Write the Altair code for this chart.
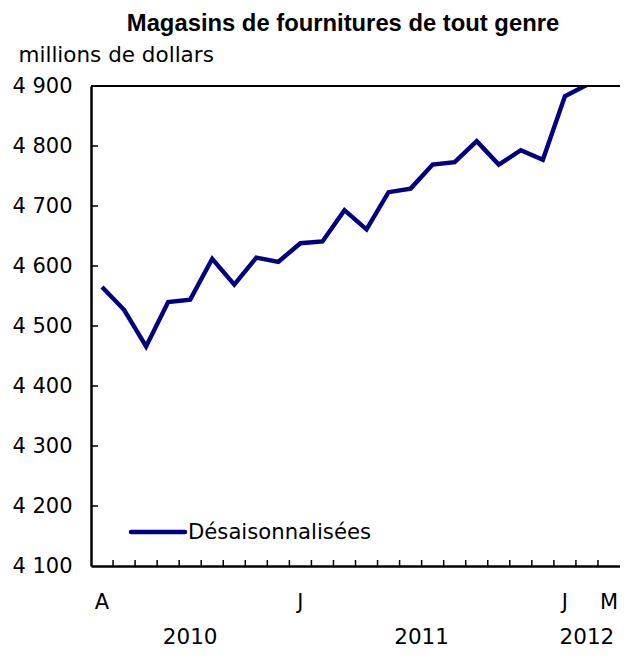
import altair as alt
import pandas as pd

# ---- data ----
title_text = "Magasins de fournitures de tout genre"
y_title = "millions de dollars"
series_name = "Désaisonnalisées"

months = ["2010-04", "2010-05", "2010-06", "2010-07", "2010-08", "2010-09",
          "2010-10", "2010-11", "2010-12", "2011-01", "2011-02", "2011-03",
          "2011-04", "2011-05", "2011-06", "2011-07", "2011-08", "2011-09",
          "2011-10", "2011-11", "2011-12", "2012-01", "2012-02", "2012-03"]
values = [4565, 4527, 4466, 4540, 4544, 4612, 4569, 4614, 4607, 4638, 4641, 4693,
          4661, 4723, 4729, 4769, 4773, 4808, 4769, 4793, 4777, 4883, 4902, 4930]

month_labels = ["A", "J", "J", "M"]
month_label_index = [0, 9, 21, 23]
year_labels = ["2010", "2011", "2012"]
year_first_month = [0, 9, 21]
year_end_month = [9, 21, 24]
y_ticks = [4100, 4200, 4300, 4400, 4500, 4600, 4700, 4800, 4900]
y_min, y_max = 4100, 4900

W, H = 529, 480
FONT = "DejaVu Sans"
NAVY = "#000080"

n = len(months)
df = pd.DataFrame({"month": months, "pos": [i + 0.5 for i in range(n)], "value": values})
xscale = alt.Scale(domain=[0, n], nice=False, zero=False)
yscale = alt.Scale(domain=[y_min, y_max], nice=False, zero=False)

line = alt.Chart(df).mark_line(color=NAVY, strokeWidth=4.4, clip=True, strokeJoin="miter").encode(
    x=alt.X("pos:Q", scale=xscale,
            axis=alt.Axis(labels=False, ticks=False, grid=False, title=None,
                          domainColor="black", domainWidth=2.5)),
    y=alt.Y("value:Q", scale=yscale,
            axis=alt.Axis(values=y_ticks,
                          labelExpr="replace(format(datum.value, ','), ',', ' ')",
                          labelFont=FONT, labelFontSize=21, labelColor="black",
                          labelPadding=19, ticks=False, grid=False,
                          domainColor="black", domainWidth=2.5,
                          title=y_title, titleAngle=0, titleX=-73, titleY=-25,
                          titleAlign="left", titleBaseline="alphabetic",
                          titleFont=FONT, titleFontSize=21.5, titleFontWeight="normal",
                          titleColor="black")),
)

# inner ticks on x axis (month boundaries)
xt = pd.DataFrame({"pos": list(range(1, n))})
x_ticks = alt.Chart(xt).mark_rule(color="black", strokeWidth=1.5).encode(
    x=alt.X("pos:Q", scale=xscale),
    y=alt.value(H), y2=alt.value(H - 6),
)

yt = pd.DataFrame({"value": y_ticks[1:-1]})
y_ticks_layer = alt.Chart(yt).mark_rule(color="black", strokeWidth=1.5).encode(
    y=alt.Y("value:Q", scale=yscale),
    x=alt.value(0), x2=alt.value(7),
)

top_border = alt.Chart(pd.DataFrame({"value": [y_max]})).mark_rule(color="black", strokeWidth=2).encode(
    y=alt.Y("value:Q", scale=yscale),
    x=alt.value(0), x2=alt.value(W),
)

ml = pd.DataFrame({"label": month_labels, "pos": [i + 0.5 for i in month_label_index]})
month_text = alt.Chart(ml).mark_text(font=FONT, fontSize=21, color="black",
                                     baseline="alphabetic", align="center").encode(
    x=alt.X("pos:Q", scale=xscale),
    y=alt.value(523),
    text="label:N",
)

yl = pd.DataFrame({"label": year_labels,
                   "pos": [(a + b) / 2 for a, b in zip(year_first_month, year_end_month)]})
year_text = alt.Chart(yl).mark_text(font=FONT, fontSize=21.5, color="black",
                                    baseline="alphabetic", align="center").encode(
    x=alt.X("pos:Q", scale=xscale),
    y=alt.value(558),
    text="label:N",
)

leg = pd.DataFrame({"label": [series_name]})
legend_line = alt.Chart(leg).mark_rule(color=NAVY, strokeWidth=4.5, strokeCap="round").encode(
    x=alt.value(40), x2=alt.value(94), y=alt.value(446),
)
legend_text = alt.Chart(leg).mark_text(font=FONT, fontSize=21.2, color="black",
                                       baseline="alphabetic", align="left").encode(
    x=alt.value(97), y=alt.value(453), text="label:N",
)

title = alt.Chart(pd.DataFrame({"t": [title_text]})).mark_text(
    font="Liberation Sans", fontSize=23.8, fontWeight="bold", color="black",
    baseline="alphabetic", align="center").encode(
    x=alt.value(252), y=alt.value(-55), text="t:N",
)

chart = alt.layer(line, x_ticks, y_ticks_layer, top_border, month_text, year_text,
                  legend_line, legend_text, title).properties(
    width=W, height=H,
    autosize=alt.AutoSizeParams(type="none"),
    padding={"left": 83, "top": 78, "right": 0, "bottom": 83},
).configure_view(stroke="#888888", strokeWidth=1).configure(background="white")

chart.save("out.html", embed_options={"renderer": "svg", "actions": False})
